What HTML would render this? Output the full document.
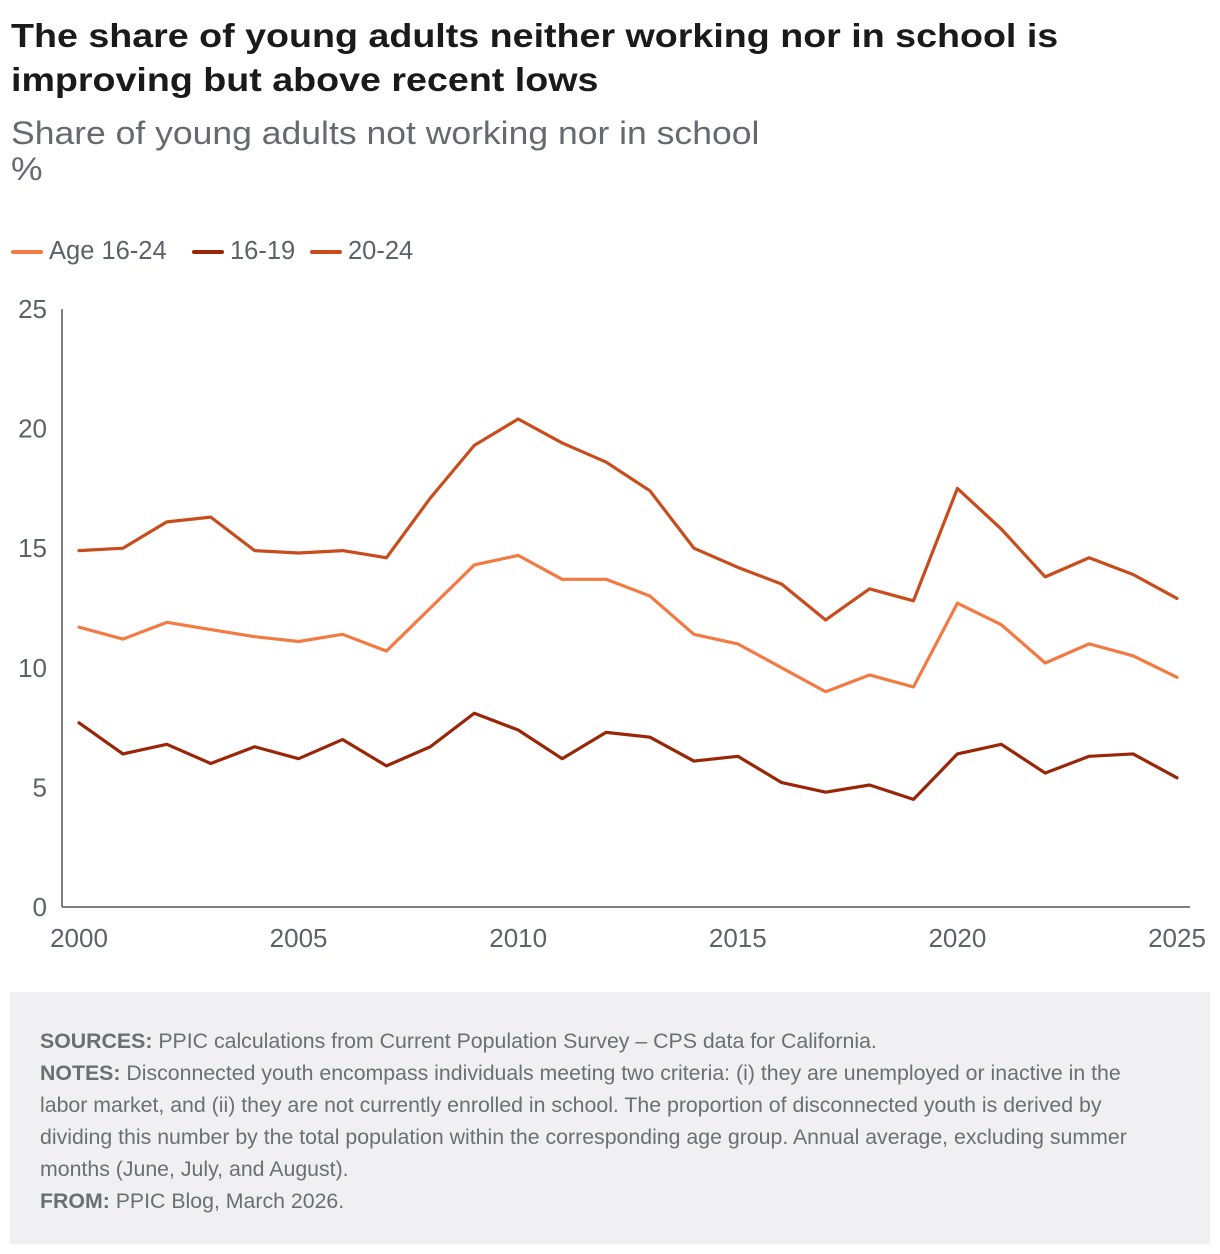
<!DOCTYPE html>
<html><head><meta charset="utf-8"><style>
body{margin:0;width:1220px;height:1254px;background:#fff;font-family:"Liberation Sans",sans-serif;position:relative;overflow:hidden}
.t{position:absolute;left:11px;top:14px;font-size:33px;font-weight:bold;color:#1a1a1a;line-height:44px;transform:scaleX(1.14);transform-origin:0 0;white-space:nowrap}
.s{position:absolute;left:11px;top:115px;font-size:32px;color:#666a70;line-height:36px;transform:scaleX(1.11);transform-origin:0 0;white-space:nowrap}
.lg{position:absolute;top:237px;font-size:25.5px;color:#5d6168;display:flex;align-items:center}
.lg i{display:inline-block;width:32px;height:4px;border-radius:2px;margin-right:6px}
.foot{position:absolute;left:10px;top:992px;width:1200px;height:252px;background:#f0f0f2}
.foot p{margin:0;position:absolute;left:30px;top:33px;width:1110px;font-size:21.3px;line-height:32px;color:#6b6e73}
.foot b{font-weight:bold}
</style></head><body>
<div class="t">The share of young adults neither working nor in school is<br>improving but above recent lows</div>
<div class="s">Share of young adults not working nor in school<br>%</div>
<div class="lg" style="left:11px"><i style="background:#f47a43"></i>Age 16-24</div>
<div class="lg" style="left:192px"><i style="background:#9a2608"></i>16-19</div>
<div class="lg" style="left:310px"><i style="background:#c94d1c"></i>20-24</div>
<svg id="chart" width="1220" height="990" style="position:absolute;left:0;top:0"></svg>
<div class="foot"><p><b>SOURCES:</b> PPIC calculations from Current Population Survey – CPS data for California.<br><b>NOTES:</b> Disconnected youth encompass individuals meeting two criteria: (i) they are unemployed or inactive in the labor market, and (ii) they are not currently enrolled in school. The proportion of disconnected youth is derived by dividing this number by the total population within the corresponding age group. Annual average, excluding summer months (June, July, and August).<br><b>FROM:</b> PPIC Blog, March 2026.</p></div>
<script>
const years=[2000,2001,2002,2003,2004,2005,2006,2007,2008,2009,2010,2011,2012,2013,2014,2015,2016,2017,2018,2019,2020,2021,2022,2023,2024,2025];
const age1624=[11.7,11.2,11.9,11.6,11.3,11.1,11.4,10.7,12.5,14.3,14.7,13.7,13.7,13.0,11.4,11.0,10.0,9.0,9.7,9.2,12.7,11.8,10.2,11.0,10.5,9.6];
const age1619=[7.7,6.4,6.8,6.0,6.7,6.2,7.0,5.9,6.7,8.1,7.4,6.2,7.3,7.1,6.1,6.3,5.2,4.8,5.1,4.5,6.4,6.8,5.6,6.3,6.4,5.4];
const age2024=[14.9,15.0,16.1,16.3,14.9,14.8,14.9,14.6,17.1,19.3,20.4,19.4,18.6,17.4,15.0,14.2,13.5,12.0,13.3,12.8,17.5,15.8,13.8,14.6,13.9,12.9];
const yTicks=[0,5,10,15,20,25];
const xTicks=[2000,2005,2010,2015,2020,2025];
const svg=document.getElementById('chart'),NS='http://www.w3.org/2000/svg';
const x=v=>79+(v-2000)*(1177-79)/25, y=v=>907-v*(907-309)/25;
function mk(t,a){const e=document.createElementNS(NS,t);for(const k in a)e.setAttribute(k,a[k]);svg.appendChild(e);return e;}
let e=mk('line',{x1:62,y1:309,x2:62,y2:907,stroke:'#555',"stroke-width":1.5});


e=mk('line',{x1:62,y1:907,x2:1190,y2:907,stroke:'#555',"stroke-width":1.5});


yTicks.forEach(v=>{const t=mk('text',{x:47,y:y(v)+9,"text-anchor":"end","font-size":26,fill:'#5d6168'});t.textContent=v;

});
xTicks.forEach(v=>{const t=mk('text',{x:x(v),y:947,"text-anchor":"middle","font-size":26,fill:'#5d6168'});t.textContent=v;

});
[[age2024,'#c94d1c','line-20-24'],[age1624,'#f47a43','line-16-24'],[age1619,'#9a2608','line-16-19']].forEach(([d,c,n])=>{
const p=mk('polyline',{points:d.map((v,i)=>x(years[i])+','+y(v)).join(' '),fill:'none',stroke:c,"stroke-width":3.2,"stroke-linejoin":"round","stroke-linecap":"round"});

});
</script>
</body></html>
